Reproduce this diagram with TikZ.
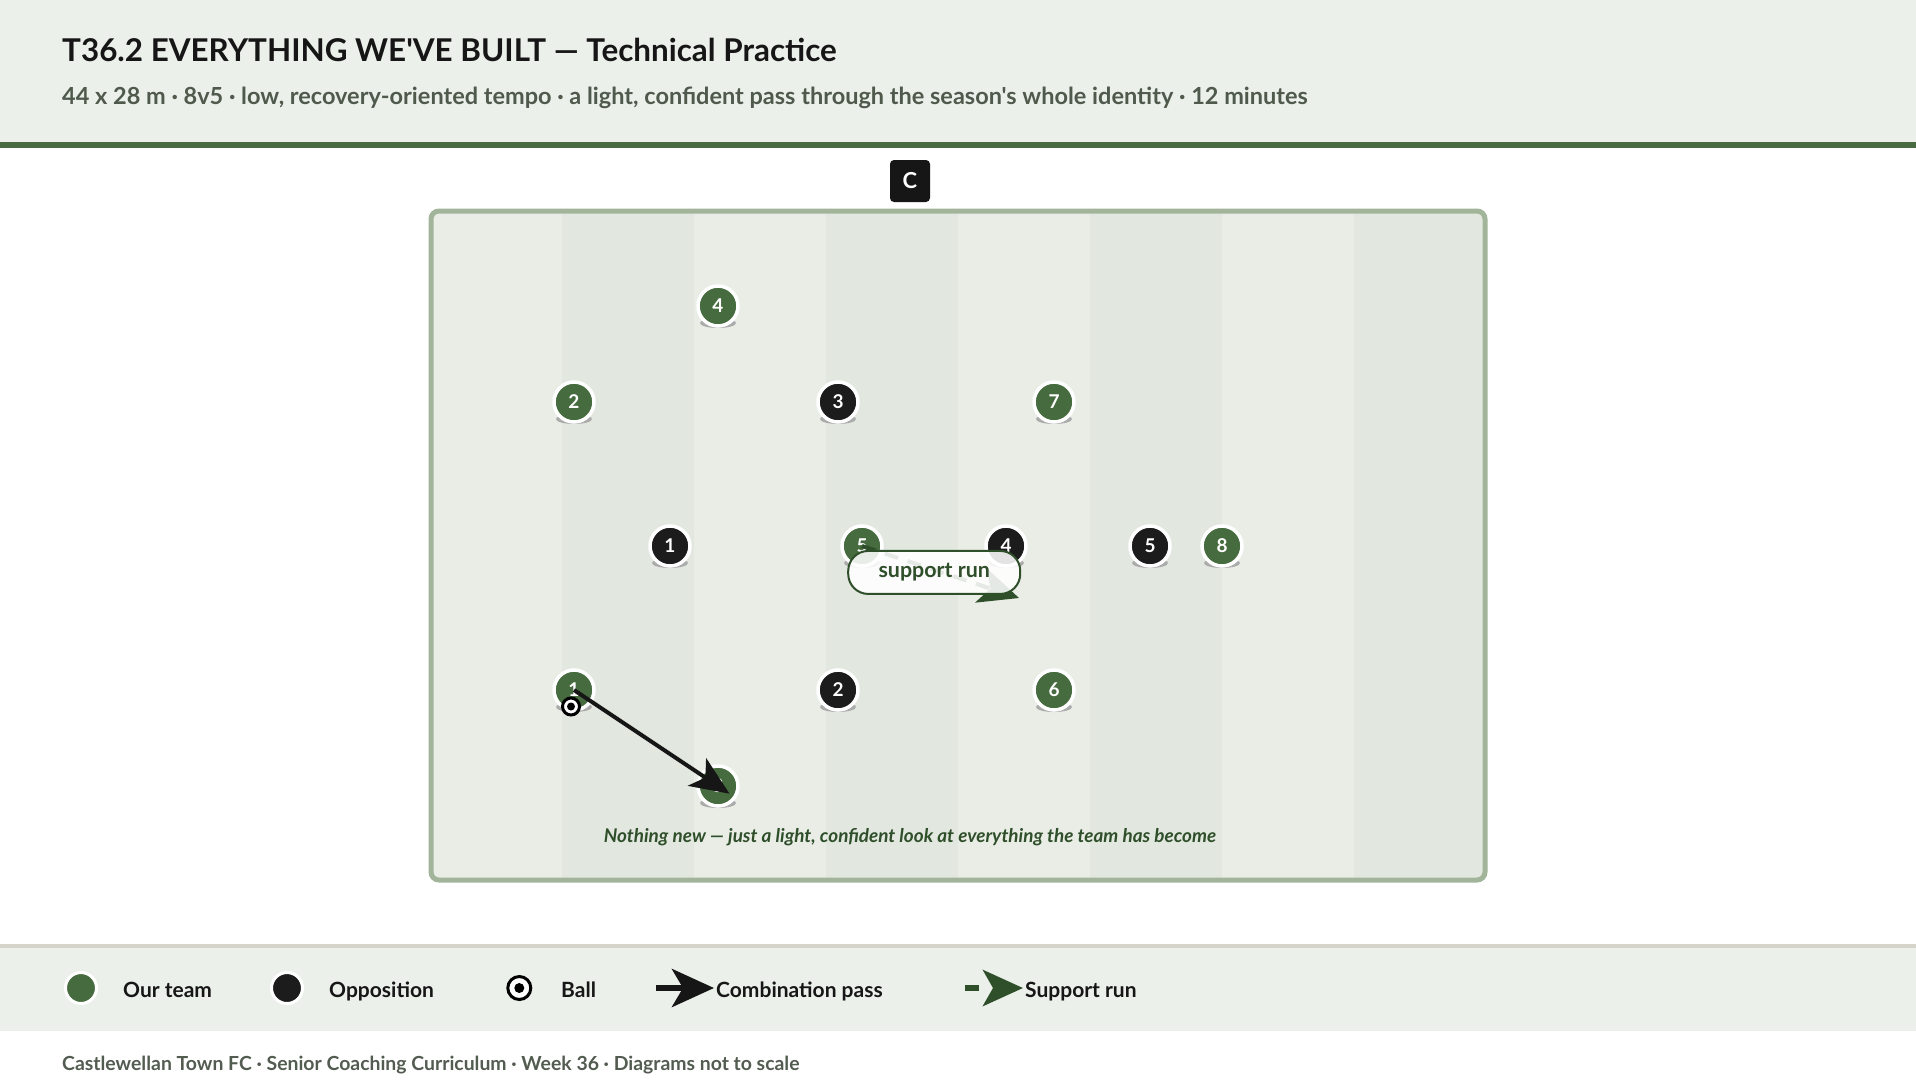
\documentclass[tikz,border=0pt]{standalone}
\usepackage{fontspec}
\setmainfont{Lato}[Ligatures=TeXOff]
\usetikzlibrary{arrows.meta,calc}
\definecolor{hdrbg}{HTML}{ECF0EB}
\definecolor{hdrbar}{HTML}{4A6A42}
\definecolor{titlec}{HTML}{161616}
\definecolor{subc}{HTML}{4F594C}
\definecolor{stripelight}{HTML}{E9EDE6}
\definecolor{stripedark}{HTML}{E2E8DF}
\definecolor{pitchline}{HTML}{A2B59B}
\definecolor{ourc}{HTML}{466B3E}
\definecolor{oppc}{HTML}{1C1C1C}
\definecolor{rundark}{HTML}{2F4E2A}
\definecolor{shadowc}{HTML}{ABABAB}
\definecolor{legline}{HTML}{D7D4CA}
\definecolor{footc}{HTML}{535C51}
\newcommand{\fieldplayer}[5]{%
  \fill[shadowc] ({430+24*#2},{210+24*#3+17}) ellipse [x radius=18, y radius=5];
  \node[#4] (#1) at ({430+24*#2},{210+24*#3}) {#5};
}
\begin{document}
\begin{tikzpicture}[x=1pt,y=-1pt,
  ourp/.style={circle, minimum size=40pt, inner sep=0pt, fill=ourc, draw=white, line width=3.5pt, text=white, font=\bfseries\fontsize{19}{21}\selectfont},
  oppp/.style={ourp, fill=oppc},
  balls/.style={circle, minimum size=17pt, inner sep=0pt, fill=white, draw=black, line width=3pt},
  balldot/.style={circle, minimum size=8pt, inner sep=0pt, fill=black},
  passline/.style={draw=titlec, line width=4pt, -{Stealth[length=39pt, width=33pt, inset=10pt]}},
  runline/.style={draw=rundark, line width=4pt, dash pattern=on 14pt off 10pt, -{Stealth[length=40pt, width=36pt, inset=10pt]}},
  runlabel/.style={solid, draw=rundark, line width=2pt, fill=white, fill opacity=0.88, draw opacity=1, text opacity=1, rounded corners=20pt, minimum width=172pt, minimum height=43pt, inner sep=0pt, text=rundark, font=\bfseries\fontsize{21.4}{24}\selectfont},
  legtext/.style={anchor=base west, inner sep=0pt, text=titlec, font=\bfseries\fontsize{21}{25}\selectfont},
]
\useasboundingbox (0,0) rectangle (1916,1088);
\fill[white] (0,0) rectangle (1916,1088);
% header
\fill[hdrbg] (0,0) rectangle (1916,142);
\fill[hdrbar] (0,142) rectangle (1916,148);
\node[anchor=base west, inner sep=0pt, text=titlec, font=\bfseries\fontsize{31.4}{36}\selectfont] (title) at (62,61) {T36.2 EVERYTHING WE'VE BUILT — Technical Practice};
\node[anchor=base west, inner sep=0pt, text=subc, font=\bfseries\fontsize{23.5}{28}\selectfont] (subtitle) at (62,104) {44 x 28 m · 8v5 · low, recovery-oriented tempo · a light, confident pass through the season's whole identity · 12 minutes};
% coach box
\node[fill=titlec, rounded corners=4pt, minimum width=40pt, minimum height=42pt, inner sep=0pt, text=white, font=\bfseries\fontsize{22}{25}\selectfont] (coach) at (910,181) {C};
% pitch
\begin{scope}
\clip[rounded corners=8pt] (431,211) rectangle (1485,880);
\fill[stripelight] (431,211) rectangle (1485,880);
\foreach \i in {1,3,5,7} {\fill[stripedark] ({430+132*\i},211) rectangle ({562+132*\i},880);}
\end{scope}
\draw[pitchline, line width=5pt, rounded corners=8pt] (431,211) rectangle (1485,880);
% players
\fieldplayer{g4}{12}{4}{ourp}{4}
\fieldplayer{g2}{6}{8}{ourp}{2}
\fieldplayer{o3}{17}{8}{oppp}{3}
\fieldplayer{g7}{26}{8}{ourp}{7}
\fieldplayer{o1}{10}{14}{oppp}{1}
\fieldplayer{g5}{18}{14}{ourp}{5}
\fieldplayer{o4}{24}{14}{oppp}{4}
\fieldplayer{o5}{30}{14}{oppp}{5}
\fieldplayer{g8}{33}{14}{ourp}{8}
\fieldplayer{g1}{6}{20}{ourp}{1}
\fieldplayer{o2}{17}{20}{oppp}{2}
\fieldplayer{g6}{26}{20}{ourp}{6}
\fieldplayer{g3}{12}{24}{ourp}{3}
% ball
\node[balls] (ball) at (571,706.5) {};
\node[balldot] (balldotf) at (ball.center) {};
% pass
\draw[passline] (g1.center) -- ($(g1.center)!1.08!(g3.center)$);
% support run
\coordinate (srend) at (1019,598);
\draw[runline] (g5.center) -- (srend) node[runlabel, pos=0.46, yshift=-2.5pt] (srlabel) {support run};
% caption
\node[inner sep=0pt, text=rundark, font=\bfseries\itshape\fontsize{18.9}{22}\selectfont] (caption) at (910,837) {Nothing new — just a light, confident look at everything the team has become};
% legend band
\fill[legline] (0,944) rectangle (1916,947.5);
\fill[hdrbg] (0,947.5) rectangle (1916,1031);
\node[circle, minimum size=31pt, inner sep=0pt, fill=ourc, draw=white, line width=3pt] (lgour) at (81,988) {};
\node[legtext] (lgourt) at (123,997) {Our team};
\node[circle, minimum size=31pt, inner sep=0pt, fill=oppc, draw=white, line width=3pt] (lgopp) at (287,988) {};
\node[legtext] (lgoppt) at (329,997) {Opposition};
\node[circle, minimum size=23pt, inner sep=0pt, fill=white, draw=black, line width=3pt] (lgball) at (519.3,988) {};
\node[circle, minimum size=10pt, inner sep=0pt, fill=black] (lgballdot) at (lgball.center) {};
\node[legtext] (lgballt) at (561,997) {Ball};
\coordinate (lgpa) at (656,988);
\coordinate (lgpb) at (714,988);
\draw[draw=titlec, line width=6pt, -{Stealth[length=42pt, width=38pt, inset=11pt]}] (lgpa) -- (lgpb);
\node[legtext] (lgpasst) at (716,997) {Combination pass};
\coordinate (lgra) at (965,988);
\coordinate (lgrb) at (1023,988);
\draw[draw=rundark, line width=6pt, dash pattern=on 14pt off 14pt, -{Stealth[length=40pt, width=36pt, inset=10pt]}] (lgra) -- (lgrb);
\node[legtext] (lgrunt) at (1025,997) {Support run};
% footer
\node[anchor=base west, inner sep=0pt, text=footc, font=\bfseries\fontsize{19.4}{23}\selectfont] (footer) at (62,1070) {Castlewellan Town FC · Senior Coaching Curriculum · Week 36 · Diagrams not to scale};
\end{tikzpicture}
\end{document}
